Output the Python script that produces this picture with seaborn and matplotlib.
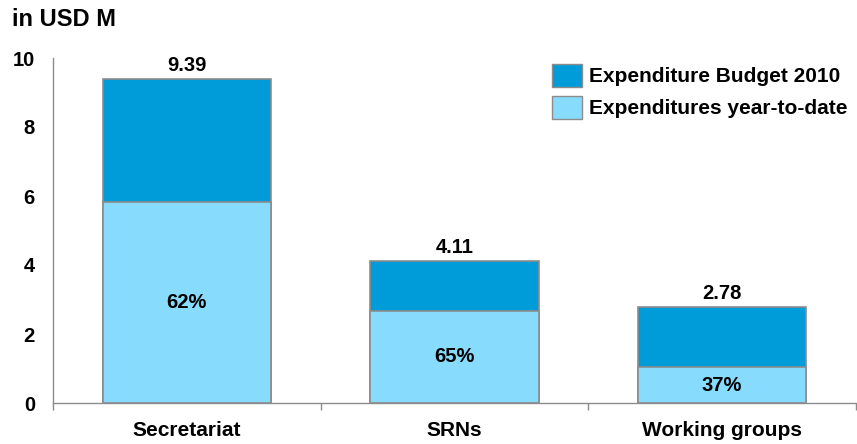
import numpy as np
import pandas as pd
import seaborn as sns
import matplotlib.pyplot as plt
from matplotlib.patches import Patch

categories = ['Secretariat', 'SRNs', 'Working groups']
budget = [9.39, 4.11, 2.78]
ytd = [5.82, 2.67, 1.03]
pct_labels = ['62%', '65%', '37%']
total_labels = ['9.39', '4.11', '2.78']

dark = '#009bd9'
light = '#87dbfc'
edge = '#8c8c8c'

sns.set_style('white')
plt.rcParams['font.family'] = ['Liberation Sans', 'DejaVu Sans']
plt.rcParams['font.weight'] = 'bold'
plt.rcParams['text.color'] = 'black'
plt.rcParams['xtick.color'] = 'black'
plt.rcParams['ytick.color'] = 'black'

df = pd.DataFrame({'cat': categories, 'budget': budget, 'ytd': ytd})

fig = plt.figure(figsize=(8.57, 4.44), dpi=100)
ax = fig.add_axes([53 / 857, 41 / 444, 803 / 857, 345 / 444])

sns.barplot(data=df, x='cat', y='budget', color=dark, width=0.63,
            edgecolor=edge, linewidth=1.2, saturation=1, ax=ax)
sns.barplot(data=df, x='cat', y='ytd', color=light, width=0.63,
            edgecolor=edge, linewidth=1.2, saturation=1, ax=ax)

for i in range(len(categories)):
    ax.text(i, budget[i] + 0.12, total_labels[i], ha='center', va='bottom',
            fontsize=14.5, fontweight='bold')
    ax.text(i, ytd[i] / 2, pct_labels[i], ha='center', va='center',
            fontsize=14.5, fontweight='bold')

ax.set_xlim(-0.5, 2.5)
ax.set_ylim(0, 10)
ax.set_yticks([0, 2, 4, 6, 8, 10])
ax.set_xlabel('')
ax.set_ylabel('')
ax.set_xticks(range(3))
ax.set_xticklabels(categories, fontsize=15, fontweight='bold')
ax.set_xticks([-0.5, 0.5, 1.5, 2.5], minor=True)
ax.tick_params(axis='x', which='major', length=0, pad=13)
ax.tick_params(axis='x', which='minor', length=5, color=edge, width=1, direction='out')
ax.tick_params(axis='y', length=5, color=edge, width=1, direction='out',
               labelsize=14.5, pad=8)
ax.xaxis.set_tick_params(which='minor', bottom=True)
for lbl in ax.get_yticklabels():
    lbl.set_fontweight('bold')

for s in ['top', 'right']:
    ax.spines[s].set_visible(False)
for s in ['left', 'bottom']:
    ax.spines[s].set_color(edge)
    ax.spines[s].set_linewidth(1)

handles = [Patch(facecolor=dark, edgecolor=edge, label='Expenditure Budget 2010'),
           Patch(facecolor=light, edgecolor=edge, label='Expenditures year-to-date')]
ax.legend(handles=handles, loc='upper right', bbox_to_anchor=(1.005, 1.02),
          frameon=False, prop={'size': 15, 'weight': 'bold'},
          handlelength=1.45, handleheight=1.35, handletextpad=0.35, labelspacing=0.42,
          borderaxespad=0.2)

fig.text(12 / 857, 1 - 20 / 444, 'in USD M', fontsize=17, fontweight='bold',
         ha='left', va='center')

fig.savefig('out.png', dpi=100)
